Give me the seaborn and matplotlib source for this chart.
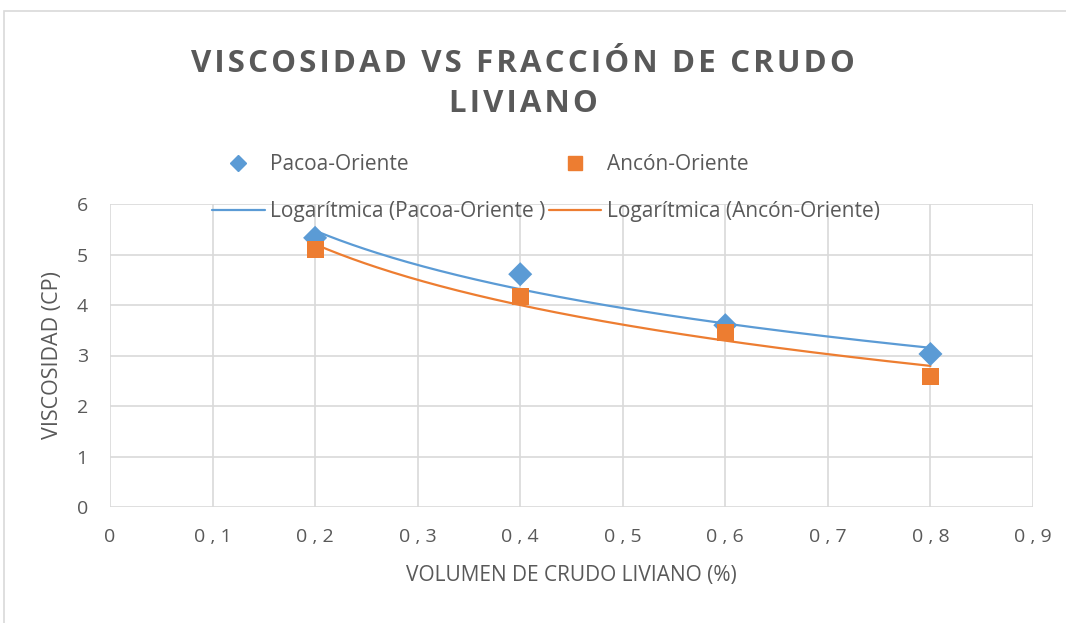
import numpy as np
import pandas as pd
import matplotlib
matplotlib.use("Agg")
import matplotlib.pyplot as plt
import seaborn as sns
from matplotlib.lines import Line2D
from matplotlib.patches import Rectangle
from matplotlib.ticker import FuncFormatter, MultipleLocator

# Data
fraccion = [0.2, 0.4, 0.6, 0.8]
pacoa = [5.33, 4.61, 3.60, 3.03]
ancon = [5.09, 4.16, 3.45, 2.59]
series_names = ["Pacoa-Oriente", "Ancón-Oriente"]
trend_names = ["Logarítmica (Pacoa-Oriente )", "Logarítmica (Ancón-Oriente)"]
title_lines = ["VISCOSIDAD VS FRACCIÓN DE CRUDO", "LIVIANO"]
xlabel = "VOLUMEN DE CRUDO LIVIANO (%)"
ylabel = "VISCOSIDAD (CP)"

BLUE = "#5B9BD5"
ORANGE = "#ED7D31"
GRID = "#D9D9D9"
TXT = "#595959"

sns.set_theme(style="white")
plt.rcParams["font.family"] = ["Open Sans", "DejaVu Sans"]

df = pd.DataFrame({"x": fraccion * 2, "y": pacoa + ancon,
                   "serie": [series_names[0]] * 4 + [series_names[1]] * 4})

fig = plt.figure(figsize=(10.66, 6.23), dpi=100)
W, H = 1066, 623
ax = fig.add_axes([110 / W, (H - 507) / H, (1033 - 110) / W, (507 - 204) / H])

# border of chart area
fig.patches.append(Rectangle((4 / W, -0.1), 1.2, (H - 11) / H + 0.1,
                             transform=fig.transFigure, fill=False,
                             edgecolor=GRID, linewidth=1.2))

# trendlines (logarithmic fits)
xs = np.linspace(min(fraccion), max(fraccion), 200)
for vals, col in [(pacoa, BLUE), (ancon, ORANGE)]:
    a, b = np.polyfit(np.log(fraccion), vals, 1)
    sns.lineplot(x=xs, y=a * np.log(xs) + b, ax=ax, color=col, linewidth=1.6, zorder=3)

sns.scatterplot(data=df, x="x", y="y", hue="serie", style="serie",
                markers={series_names[0]: "D", series_names[1]: "s"},
                palette={series_names[0]: BLUE, series_names[1]: ORANGE},
                s=150, linewidth=0, ax=ax, zorder=4, legend=False)

ax.set_xlim(0, 0.9)
ax.set_ylim(0, 6)
ax.xaxis.set_major_locator(MultipleLocator(0.1))
ax.yaxis.set_major_locator(MultipleLocator(1))
ax.xaxis.set_major_formatter(FuncFormatter(lambda v, p: "0" if abs(v) < 1e-9 else ("%.1f" % v).replace(".", " , ")))
ax.grid(True, color=GRID, linewidth=1.2)
ax.set_axisbelow(True)
for s in ax.spines.values():
    s.set_visible(False)
ax.tick_params(axis="both", length=0, labelsize=14, labelcolor=TXT)
ax.tick_params(axis="x", pad=15)
ax.tick_params(axis="y", pad=16)
ax.set_xlabel(xlabel, fontsize=15, color=TXT, labelpad=14)
ax.set_ylabel(ylabel, fontsize=15.5, color=TXT, labelpad=10)

spaced = "\n".join("\u200a".join(line) for line in title_lines)
fig.text(523 / W, 1 - 84 / H, spaced, ha="center", va="center", fontsize=22.5,
         fontweight="bold", color=TXT, linespacing=1.45)

handles = [
    Line2D([], [], marker="D", color=BLUE, linestyle="none", markersize=8),
    Line2D([], [], color=BLUE, linewidth=1.6),
    Line2D([], [], marker="s", color=ORANGE, linestyle="none", markersize=10),
    Line2D([], [], color=ORANGE, linewidth=1.6),
]
labels = [series_names[0], trend_names[0], series_names[1], trend_names[1]]
fig.legend(handles, labels, ncol=2, loc="center", bbox_to_anchor=(546 / W, 1 - 188 / H),
           frameon=False, fontsize=15, labelcolor=TXT, handlelength=2.5,
           columnspacing=0.2, handletextpad=0.25, labelspacing=1.25)

fig.savefig("out.png", dpi=100, facecolor="white")
